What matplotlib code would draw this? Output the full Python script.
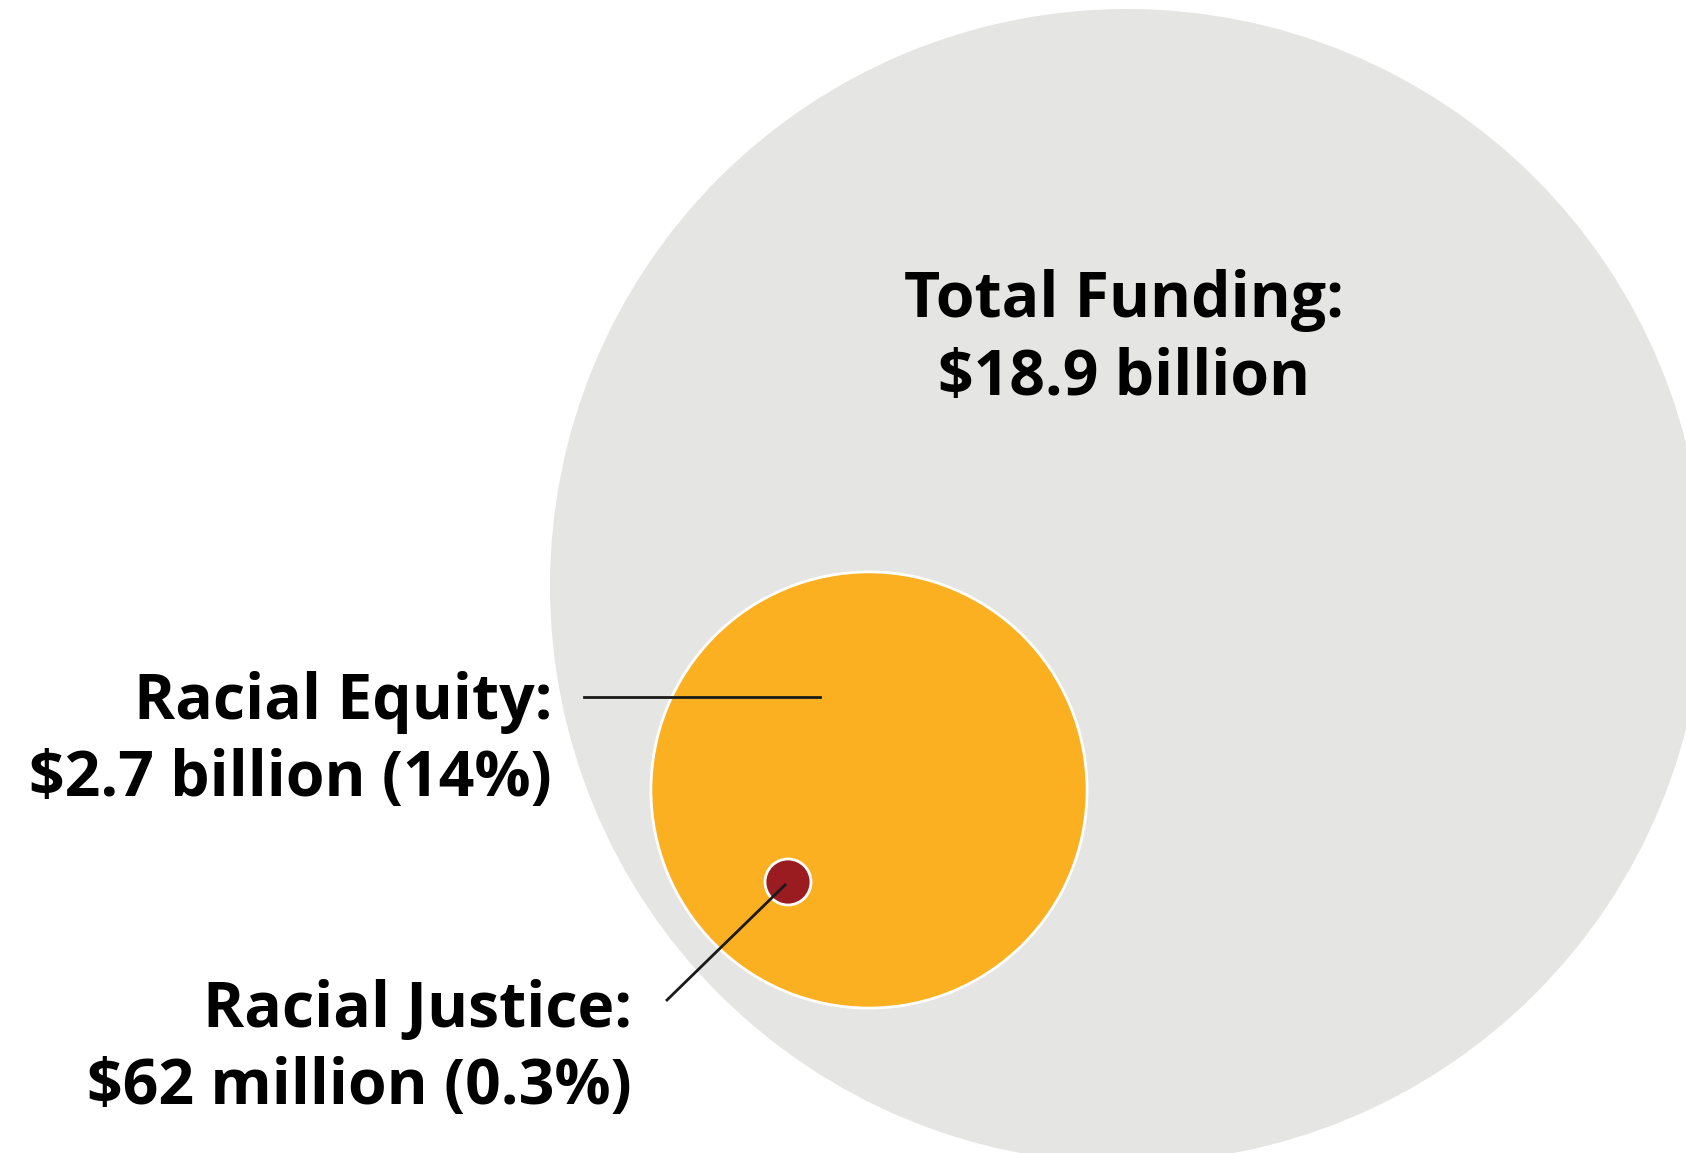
import matplotlib
matplotlib.use("Agg")
from matplotlib import pyplot as plt
from matplotlib.patches import Circle
import numpy as np

# funding amounts, billions of dollars
categories = ["Total Funding", "Racial Equity", "Racial Justice"]
amounts = [18.9, 2.7, 0.062]
amount_labels = ["$18.9 billion", "$2.7 billion (14%)", "$62 million (0.3%)"]
colors = ["#E5E5E3", "#FBB022", "#9A1C21"]

plt.rcParams['font.family'] = ['Open Sans', 'DejaVu Sans']

W, H = 1686, 1153
fig = plt.figure(figsize=(W / 100, H / 100), dpi=100)
ax = fig.add_axes([0, 0, 1, 1])
ax.set_xlim(0, W)
ax.set_ylim(H, 0)
ax.set_aspect('equal')
ax.axis('off')

# big circle sets the scale, area ~ amount
r_total = 577
scale = r_total / np.sqrt(amounts[0])
centers = [(1127, 586), (869, 790), (788, 882)]
radii = [r_total, scale * np.sqrt(amounts[1]), 23]

for i in range(3):
    ec = 'none' if i == 0 else 'white'
    ax.add_patch(Circle(centers[i], radii[i], facecolor=colors[i],
                        edgecolor=ec, linewidth=2, zorder=i + 1))

# leader lines
ax.plot([584, 820], [697, 697], color='#1a1a1a', lw=2, zorder=5)
ax.plot([667, 785], [1000, 885], color='#1a1a1a', lw=2, zorder=5)

fs = 45
wt = 'bold'
dy = 6
ax.text(1124, 294 + dy, categories[0] + ":", ha='center', va='center',
        fontsize=fs, fontweight=wt, zorder=6)
ax.text(1124, 372 + dy, amount_labels[0], ha='center', va='center',
        fontsize=fs, fontweight=wt, zorder=6)

ax.text(552, 697 + dy, categories[1] + ":", ha='right', va='center',
        fontsize=fs, fontweight=wt, zorder=6)
ax.text(552, 774 + dy, amount_labels[1], ha='right', va='center',
        fontsize=fs, fontweight=wt, zorder=6)

ax.text(632, 1004 + dy, categories[2] + ":", ha='right', va='center',
        fontsize=fs, fontweight=wt, zorder=6)
ax.text(632, 1082 + dy, amount_labels[2], ha='right', va='center',
        fontsize=fs, fontweight=wt, zorder=6)

fig.savefig('out.png', dpi=100, facecolor='white')
